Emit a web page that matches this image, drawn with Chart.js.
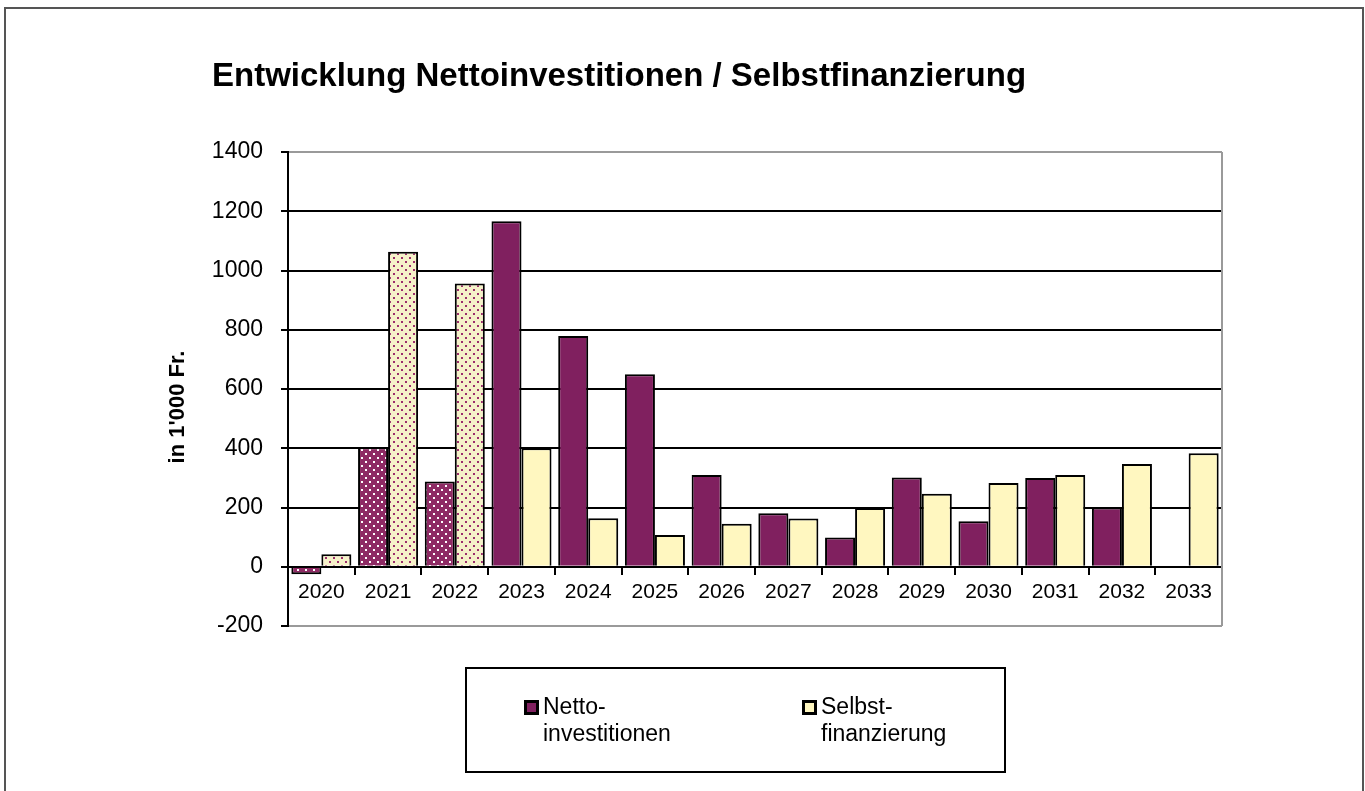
<!DOCTYPE html>
<html>
<head>
<meta charset="utf-8">
<script src="https://cdn.jsdelivr.net/npm/chart.js@4/dist/chart.umd.min.js"></script>
<style>
  html, body { margin: 0; padding: 0; background: #fff; }
  #wrap { position: relative; width: 1365px; height: 791px; }
</style>
</head>
<body>
<div id="wrap"><canvas id="chart" width="1365" height="791"></canvas></div>
<script>
// Daten (in 1'000 Fr.)
const years = ['2020', '2021', '2022', '2023', '2024', '2025', '2026', '2027', '2028', '2029', '2030', '2031', '2032', '2033'];
const nettoValues = [-25, 403, 288, 1166, 779, 650, 310, 181, 99, 301, 154, 300, 200, null];
const selbstValues = [42, 1063, 956, 400, 164, 107, 145, 163, 198, 246, 283, 310, 347, 383];
const yTickValues = [-200, 0, 200, 400, 600, 800, 1000, 1200, 1400];
const dottedYears = ['2020', '2021', '2022'];   // schraffierte Jahre (Ist-Werte)
const seriesNames = ['Nettoinvestitionen', 'Selbstfinanzierung'];
const legendLines = [['Netto-', 'investitionen'], ['Selbst-', 'finanzierung']];
const chartTitle = 'Entwicklung Nettoinvestitionen / Selbstfinanzierung';
const yAxisTitle = "in 1'000 Fr.";

const NETTO = '#80205F';
const SELBST = '#FFF7C0';
const FONT = 'Arial, "Liberation Sans", sans-serif';

// Punktmuster fuer die ersten Jahre
function makeDots(base, dot) {
    const c = document.createElement('canvas');
    c.width = 8; c.height = 8;
    const g = c.getContext('2d');
    g.fillStyle = base;
    g.fillRect(0, 0, 8, 8);
    g.fillStyle = dot;
    g.fillRect(1, 1, 2, 2);
    g.fillRect(5, 5, 2, 2);
    return g.createPattern(c, 'repeat');
}
const nettoDots = makeDots('#8E2A64', '#ffffff');
const selbstDots = makeDots('#F6F1C9', '#9B2D6B');

const fills = (solid, dotted) => years.map(y => dottedYears.includes(y) ? dotted : solid);

const frame = {
    id: 'frame',
    beforeDraw(chart) {
        const ctx = chart.ctx;
        ctx.save();
        ctx.fillStyle = '#fff';
        ctx.fillRect(0, 0, chart.width, chart.height);
        ctx.strokeStyle = '#555';
        ctx.lineWidth = 2;
        ctx.strokeRect(5, 8, 1358, 800);
        ctx.restore();
    },
    beforeDatasetsDraw(chart) {
        const a = chart.chartArea, ctx = chart.ctx;
        ctx.save();
        ctx.strokeStyle = '#9a9a9a';
        ctx.lineWidth = 2;
        ctx.beginPath();
        ctx.moveTo(a.right, a.top);
        ctx.lineTo(a.right, a.bottom);
        ctx.stroke();
        ctx.restore();
    },
    afterDraw(chart) {
        const ctx = chart.ctx;
        ctx.save();
        ctx.fillStyle = '#000';

        // Titel
        ctx.font = 'bold 33px ' + FONT;
        ctx.textAlign = 'left';
        ctx.textBaseline = 'alphabetic';
        ctx.fillText(chartTitle, 212, 86);

        // Achsentitel
        ctx.save();
        ctx.translate(184, 407);
        ctx.rotate(-Math.PI / 2);
        ctx.font = 'bold 22px ' + FONT;
        ctx.textAlign = 'center';
        ctx.fillText(yAxisTitle, 0, 0);
        ctx.restore();

        // Legende
        ctx.strokeStyle = '#000';
        ctx.lineWidth = 2;
        ctx.strokeRect(466, 668, 539, 104);
        const xs = [524, 802];
        const cols = [NETTO, SELBST];
        ctx.font = '23px ' + FONT;
        xs.forEach((x, i) => {
            ctx.fillStyle = '#000';
            ctx.fillRect(x, 700, 15, 15);
            ctx.fillStyle = cols[i];
            ctx.fillRect(x + 3, 703, 9, 9);
            ctx.fillStyle = '#000';
            ctx.fillText(legendLines[i][0], x + 19, 714);
            ctx.fillText(legendLines[i][1], x + 19, 741);
        });
        ctx.restore();
    }
};

new Chart(document.getElementById('chart'), {
    type: 'bar',
    data: {
        labels: years,
        datasets: [
            {
                label: seriesNames[0],
                data: nettoValues,
                backgroundColor: fills(NETTO, nettoDots),
                borderColor: '#000',
                borderWidth: 2,
                categoryPercentage: 0.9,
                barPercentage: 1.0
            },
            {
                label: seriesNames[1],
                data: selbstValues,
                backgroundColor: fills(SELBST, selbstDots),
                borderColor: '#000',
                borderWidth: 2,
                categoryPercentage: 0.9,
                barPercentage: 1.0
            }
        ]
    },
    options: {
        responsive: false,
        animation: false,
        layout: { padding: { left: 0, top: 152, right: 143, bottom: 165 } },
        plugins: {
            legend: { display: false },
            title: { display: false },
            tooltip: { enabled: false }
        },
        scales: {
            x: {
                position: { y: 0 },
                grid: { drawOnChartArea: false, drawTicks: true, tickLength: 7, color: '#000', lineWidth: 2, offset: true },
                border: { color: '#000', width: 2 },
                ticks: { color: '#000', font: { family: FONT, size: 21 }, padding: 6, maxRotation: 0, autoSkip: false }
            },
            y: {
                min: yTickValues[0],
                max: yTickValues[yTickValues.length - 1],
                afterFit(s) { s.width = 288; },
                afterBuildTicks(s) { s.ticks = yTickValues.map(v => ({ value: v })); },
                grid: {
                    color: c => (c.tick && (c.tick.value === yTickValues[0] || c.tick.value === yTickValues[yTickValues.length - 1])) ? '#9a9a9a' : '#000',
                    tickColor: '#000',
                    lineWidth: 2,
                    tickLength: 7
                },
                border: { color: '#000', width: 2 },
                ticks: {
                    color: '#000',
                    font: { family: FONT, size: 23 },
                    padding: 18,
                    callback: v => String(v)
                }
            }
        }
    },
    plugins: [frame]
});
</script>
</body>
</html>
